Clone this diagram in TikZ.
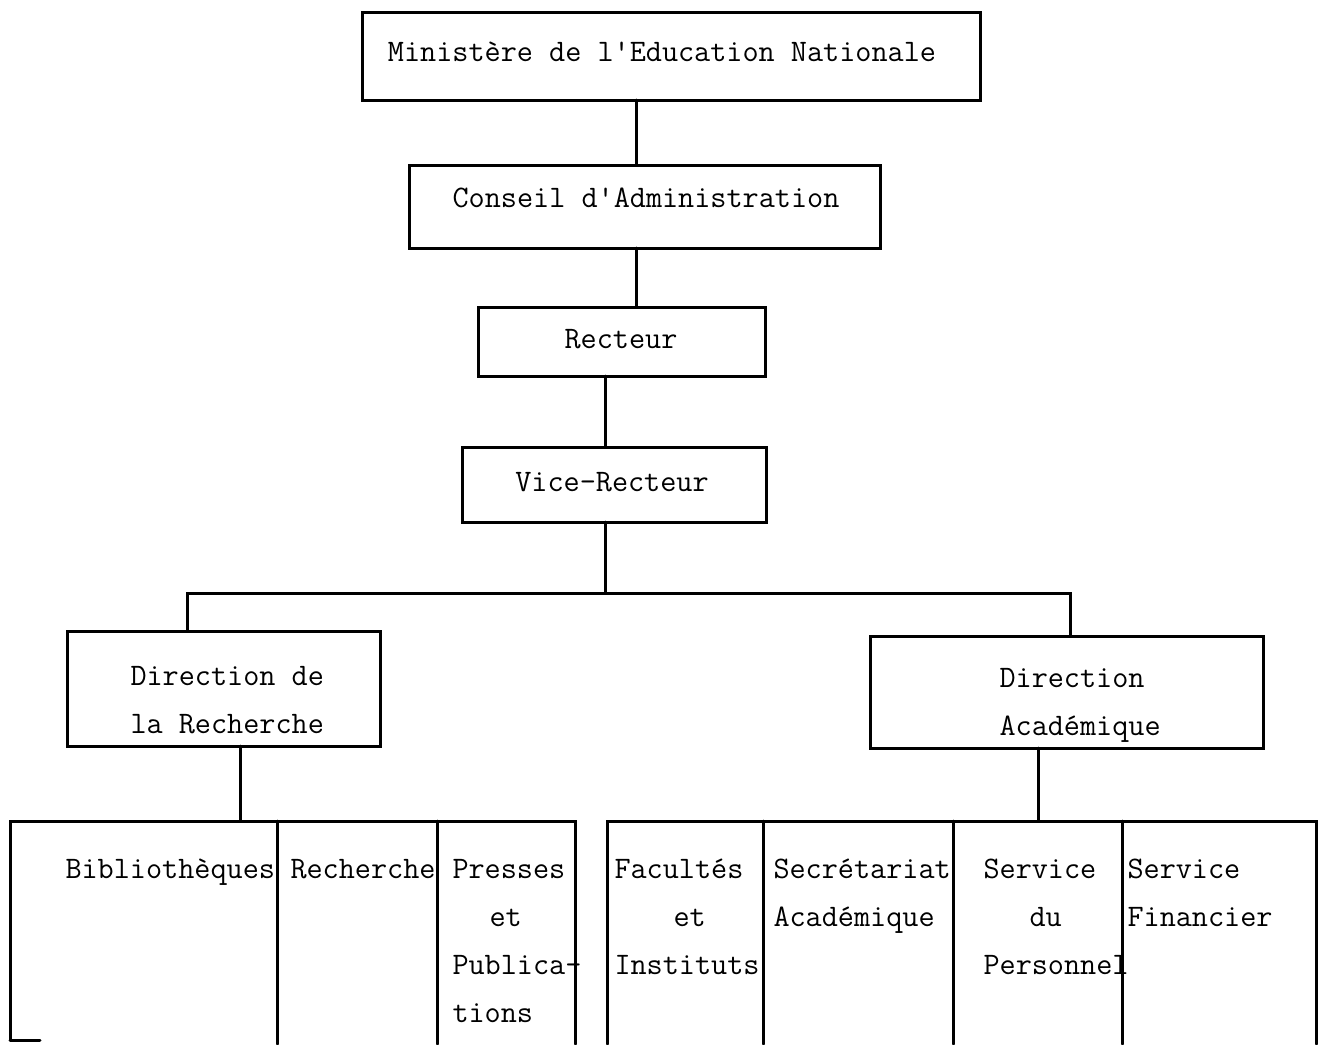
\documentclass[tikz,border=0pt]{standalone}
\usepackage{fontspec}
\begin{document}
\begin{tikzpicture}[x=1pt,y=-1pt,
  line width=3pt, line cap=round, line join=miter,
  txt/.style={inner sep=0pt, font=\ttfamily\fontsize{31.3}{48}\selectfont},
  ltxt/.style={txt, align=left, anchor=base west},
  box/.style={draw, line width=3pt}]
\useasboundingbox (0,0) rectangle (1322,1044);
\fill[white] (0,0) rectangle (1322,1044);

% top chain
\draw[box] (362,12) rectangle (980,100);
\node[txt, anchor=base] (min) at (662,61) {Ministère de l'Education Nationale};
\coordinate (minS) at (636,100);
\draw[box] (409,165) rectangle (880,248);
\node[txt, anchor=base] (cons) at (646,207) {Conseil d'Administration};
\coordinate (consN) at (636,165);
\coordinate (consS) at (636,248);
\draw[box] (478,307) rectangle (765,376);
\node[txt, anchor=base] (rect) at (621,348) {Recteur};
\coordinate (rectN) at (636,307);
\coordinate (rectS) at (605,376);
\draw[box] (462,447) rectangle (766,522);
\node[txt, anchor=base] (vice) at (612,491) {Vice-Recteur};
\coordinate (viceN) at (605,447);
\coordinate (viceS) at (605,522);

\draw (minS) -- (consN);
\draw (consS) -- (rectN);
\draw (rectS) -- (viceN);

% branch
\coordinate (bj) at (605,593);
\coordinate (bl) at (187,593);
\coordinate (br) at (1070,593);
\coordinate (drN) at (187,631);
\coordinate (daN) at (1070,636);
\draw (viceS) -- (bj);
\draw (drN) -- (bl) -- (br) -- (daN);

% directions (base = baseline of last line)
\draw[box] (67,631) rectangle (380,746);
\node[ltxt] (dr) at (129,733) {Direction de\\la Recherche};
\draw[box] (870,636) rectangle (1263,748);
\node[ltxt] (da) at (998,735) {Direction\\Académique};
\coordinate (drS) at (240,746);
\coordinate (daS) at (1038,748);
\coordinate (lbN) at (240,821);
\coordinate (rbN) at (1038,821);
\draw (drS) -- (lbN);
\draw (daS) -- (rbN);

% bottom left block
\draw (10,1040) -- (10,821) -- (575,821) -- (575,1044);
\draw (10,1040) -- (40,1040);
\draw (277,821) -- (277,1044);
\draw (437,821) -- (437,1044);
\node[ltxt] (bib) at (64,878) {Bibliothèques};
\node[ltxt] (rech) at (289,878) {Recherche};
\node[ltxt] (pres) at (451,1022) {Presses\\\hspace*{37pt}et\\Publica-\\tions};

% bottom right block
\draw (607,1044) -- (607,821) -- (1316,821) -- (1316,1044);
\draw (763,821) -- (763,1044);
\draw (953,821) -- (953,1044);
\draw (1122,821) -- (1122,1044);
\node[ltxt] (fac) at (613,974) {Facultés\\\hspace*{59pt}et\\Instituts};
\node[ltxt] (sec) at (772,926) {Secrétariat\\Académique};
\node[ltxt] (pers) at (982,974) {Service\\\hspace*{46pt}du\\Personnel};
\node[ltxt] (fin) at (1126,926) {Service\\Financier};
\end{tikzpicture}
\end{document}
